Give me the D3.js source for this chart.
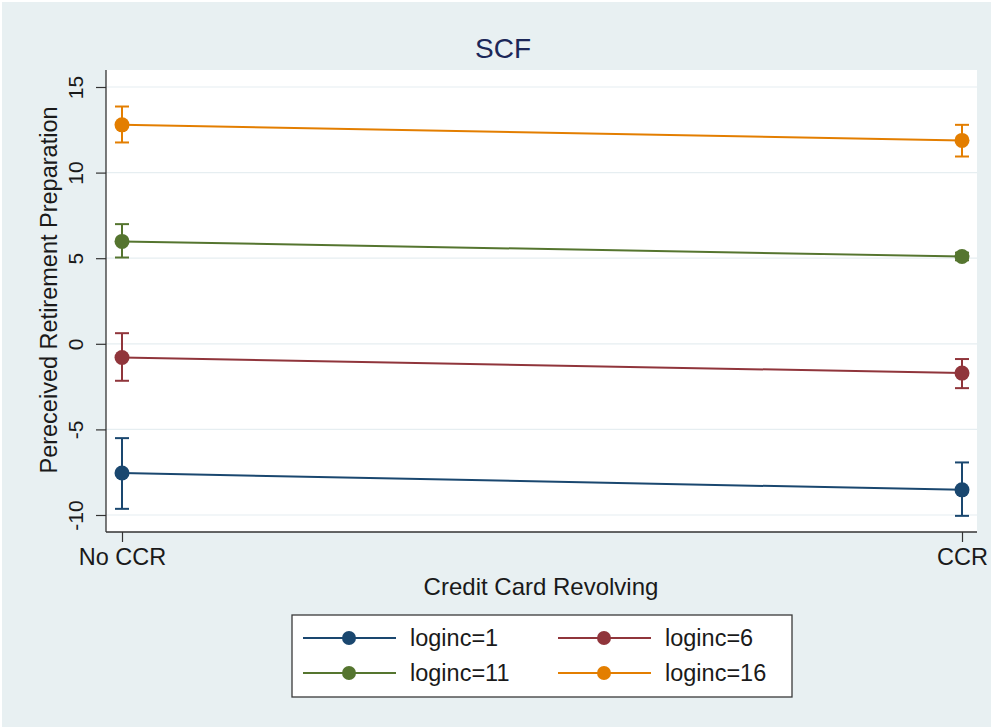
<!DOCTYPE html>
<html>
<head>
<meta charset="utf-8">
<script src="https://cdn.jsdelivr.net/npm/d3@7"></script>
<style>
  html, body { margin: 0; padding: 0; background: #ffffff; }
  svg { display: block; font-family: "Liberation Sans", Arial, Helvetica, sans-serif; }
</style>
</head>
<body>
<svg id="chart" width="991" height="727"></svg>
<script>
// Margins plot: predicted retirement preparation by credit card revolving status
const categories = ["No CCR", "CCR"];
const seriesNames = ["loginc=1", "loginc=6", "loginc=11", "loginc=16"];
const seriesColors = ["#1a476f", "#90353b", "#55752f", "#e37e00"];

// point estimates per series, in category order
const meanLoginc1  = [-7.55, -8.53];
const meanLoginc6  = [-0.80, -1.71];
const meanLoginc11 = [5.98, 5.10];
const meanLoginc16 = [12.79, 11.88];

// 95% confidence limits
const lowerLoginc1  = [-9.64, -10.05];
const upperLoginc1  = [-5.51, -6.93];
const lowerLoginc6  = [-2.16, -2.59];
const upperLoginc6  = [0.62, -0.89];
const lowerLoginc11 = [5.04, 4.88];
const upperLoginc11 = [6.99, 5.32];
const lowerLoginc16 = [11.76, 10.94];
const upperLoginc16 = [13.86, 12.79];

const yTicks = [-10, -5, 0, 5, 10, 15];
const yTickLabels = ["-10", "-5", "0", "5", "10", "15"];

const series = [
  { name: seriesNames[0], color: seriesColors[0], mean: meanLoginc1,  lo: lowerLoginc1,  hi: upperLoginc1 },
  { name: seriesNames[1], color: seriesColors[1], mean: meanLoginc6,  lo: lowerLoginc6,  hi: upperLoginc6 },
  { name: seriesNames[2], color: seriesColors[2], mean: meanLoginc11, lo: lowerLoginc11, hi: upperLoginc11 },
  { name: seriesNames[3], color: seriesColors[3], mean: meanLoginc16, lo: lowerLoginc16, hi: upperLoginc16 }
];

const W = 991, H = 727;
const plot = { left: 106, right: 977, top: 70, bottom: 532 };
const bg = "#e8f0f2";
const textColor = "#1a1a1a";

const svg = d3.select("#chart");

// graph region background
svg.append("rect").attr("x", 2).attr("y", 2).attr("width", W - 2).attr("height", H - 2).attr("fill", bg);

// plot region
svg.append("rect")
  .attr("x", plot.left).attr("y", plot.top)
  .attr("width", plot.right - plot.left).attr("height", plot.bottom - plot.top)
  .attr("fill", "#ffffff");

const x = d3.scalePoint().domain(categories).range([122, 962]);
const y = d3.scaleLinear().domain([-10, 15]).range([515, 87]);

// horizontal gridlines
svg.append("g").selectAll("line").data(yTicks).join("line")
  .attr("x1", plot.left).attr("x2", plot.right)
  .attr("y1", d => y(d)).attr("y2", d => y(d))
  .attr("stroke", "#e6eef1").attr("stroke-width", 1.2);

// y axis (hyphen-minus labels)
const yAxis = svg.append("g")
  .attr("transform", `translate(${plot.left},0)`)
  .call(d3.axisLeft(y).tickValues(yTicks).tickSize(10).tickSizeOuter(0)
    .tickFormat((d, i) => yTickLabels[i]));
yAxis.select(".domain").remove();
yAxis.selectAll(".tick line").attr("stroke", "#333").attr("stroke-width", 1.2);
yAxis.selectAll(".tick text")
  .attr("font-size", 21).attr("fill", textColor)
  .attr("font-family", "Liberation Sans, Arial, sans-serif")
  .attr("x", null).attr("dy", null)
  .attr("text-anchor", "middle")
  .attr("transform", "translate(-23,0) rotate(-90)")
  .attr("y", 0);

// x axis
const xAxis = svg.append("g")
  .attr("transform", `translate(0,${plot.bottom})`)
  .call(d3.axisBottom(x).tickSize(10).tickSizeOuter(0));
xAxis.select(".domain").remove();
xAxis.selectAll(".tick line").attr("stroke", "#333").attr("stroke-width", 1.2);
xAxis.selectAll(".tick text")
  .attr("font-size", 23.5).attr("fill", textColor)
  .attr("font-family", "Liberation Sans, Arial, sans-serif")
  .attr("dy", null).attr("y", 33);

// axis lines
svg.append("line").attr("x1", plot.left).attr("x2", plot.left)
  .attr("y1", plot.top).attr("y2", plot.bottom).attr("stroke", "#333").attr("stroke-width", 1.3);
svg.append("line").attr("x1", plot.left).attr("x2", plot.right)
  .attr("y1", plot.bottom).attr("y2", plot.bottom).attr("stroke", "#333").attr("stroke-width", 1.3);

// series: connecting lines, confidence bars, markers
const capHalf = 7;
series.forEach(s => {
  const pts = categories.map((c, i) => ({ c, m: s.mean[i], lo: s.lo[i], hi: s.hi[i] }));
  const g = svg.append("g");
  g.append("path").datum(pts)
    .attr("d", d3.line().x(d => x(d.c)).y(d => y(d.m)))
    .attr("fill", "none").attr("stroke", s.color).attr("stroke-width", 2);
  g.selectAll(".ci").data(pts).join("line")
    .attr("x1", d => x(d.c)).attr("x2", d => x(d.c))
    .attr("y1", d => y(d.lo)).attr("y2", d => y(d.hi))
    .attr("stroke", s.color).attr("stroke-width", 2);
  ["lo", "hi"].forEach(k => {
    g.selectAll(".cap-" + k).data(pts).join("line")
      .attr("x1", d => x(d.c) - capHalf).attr("x2", d => x(d.c) + capHalf)
      .attr("y1", d => y(d[k])).attr("y2", d => y(d[k]))
      .attr("stroke", s.color).attr("stroke-width", 2);
  });
  g.selectAll("circle").data(pts).join("circle")
    .attr("cx", d => x(d.c)).attr("cy", d => y(d.m)).attr("r", 7.5)
    .attr("fill", s.color);
});

// title
svg.append("text")
  .attr("x", 503).attr("y", 58).attr("text-anchor", "middle")
  .attr("font-size", 28).attr("fill", "#1b2758")
  .text("SCF");

// axis titles
svg.append("text")
  .attr("transform", "translate(57,290) rotate(-90)")
  .attr("text-anchor", "middle").attr("font-size", 23.5).attr("fill", textColor)
  .text("Pereceived Retirement Preparation");

svg.append("text")
  .attr("x", 541).attr("y", 595).attr("text-anchor", "middle")
  .attr("font-size", 24).attr("fill", textColor)
  .text("Credit Card Revolving");

// legend
const legend = svg.append("g");
legend.append("rect")
  .attr("x", 292).attr("y", 615).attr("width", 500).attr("height", 82)
  .attr("fill", "#ffffff").attr("stroke", "#3a3a3a").attr("stroke-width", 1.3);

const legendCols = [303, 558];
const legendRows = [638, 673];
series.forEach((s, i) => {
  const lx = legendCols[i % 2];
  const ly = legendRows[Math.floor(i / 2)];
  const item = legend.append("g").attr("transform", `translate(${lx},${ly})`);
  item.append("line").attr("x1", 0).attr("x2", 93).attr("y1", 0).attr("y2", 0)
    .attr("stroke", s.color).attr("stroke-width", 2);
  item.append("circle").attr("cx", 46).attr("cy", 0).attr("r", 7).attr("fill", s.color);
  item.append("text").attr("x", 107).attr("y", 8)
    .attr("font-size", 23.5).attr("fill", textColor)
    .text(s.name);
});
</script>
</body>
</html>
